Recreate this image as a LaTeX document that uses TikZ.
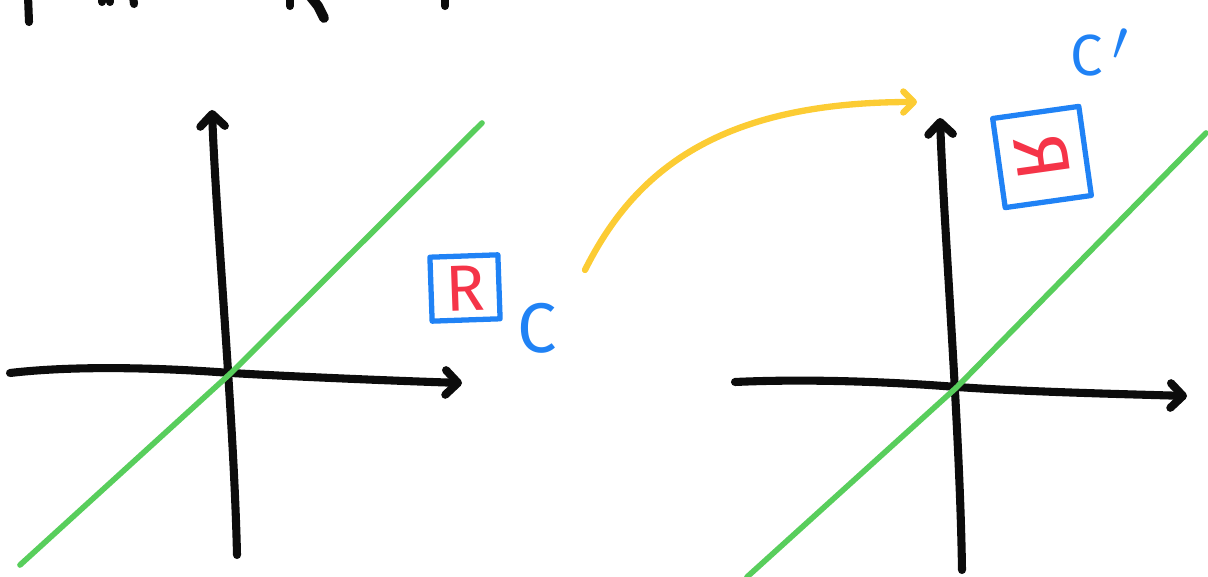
\documentclass[tikz,border=0pt]{standalone}
\usepackage{fontspec}
\setmainfont{Fira Sans}
\usetikzlibrary{arrows.meta}

\definecolor{penblack}{RGB}{12,12,12}
\definecolor{linegreen}{RGB}{88,206,92}
\definecolor{boxblue}{RGB}{32,130,245}
\definecolor{letterred}{RGB}{245,52,72}
\definecolor{arrowyellow}{RGB}{252,204,52}

\begin{document}
\begin{tikzpicture}[x=0.02cm, y=-0.02cm, line cap=round, line join=round,
    axis/.style={penblack, line width=4.6pt, -{Straight Barb[length=7pt, width=14pt, round]}},
    mirror/.style={linegreen, line width=3.2pt},
    sqbox/.style={draw=boxblue, line width=3pt, inner sep=0pt, text=letterred},
    ctag/.style={boxblue, inner sep=0pt},
    maparrow/.style={arrowyellow, line width=3.6pt, -{Straight Barb[length=6pt, width=12pt, round]}}]
    \useasboundingbox (0,0) rectangle (1208,577);

    % cut-off handwriting along the top edge
    \draw[penblack, line width=4.6pt] (28,-4) -- (29,22);
    \draw[penblack, line width=4.6pt] (102,-4) -- (102,2);
    \draw[penblack, line width=4.6pt] (110,-4) -- (110,2);
    \draw[penblack, line width=4.6pt] (133,-4) -- (134,4);
    \draw[penblack, line width=4.6pt] (290,-4) -- (290,6);
    \draw[penblack, line width=5.6pt] (310,-4) -- (318,6) -- (324,18);
    \draw[penblack, line width=4.6pt] (445,-4) -- (445,6);

    % original panel
    \begin{scope}
        \coordinate (lo) at (231,373);
        \coordinate (lxs) at (10,373);
        \coordinate (lxe) at (462,383);
        \coordinate (lyb) at (237,555);
        \coordinate (lyt) at (212,110);
        \draw[axis] (lxs) .. controls (70,366) and (150,367) .. (lo)
            .. controls (300,377) and (400,381) .. (lxe);
        \draw[axis] (lyb) .. controls (234,420) and (216,220) .. (lyt);

        % line of reflection
        \coordinate (lgb) at (20,565);
        \coordinate (lgt) at (482,123);
        \draw[mirror] (lgb) -- (lo) -- (lgt);

        \node[sqbox, minimum width=1.36cm, minimum height=1.28cm, rotate=2,
              font=\fontsize{37}{38}\selectfont] (lbox) at (465,288) {R};
        \node[ctag, font=\fontsize{40}{40}\selectfont] (lC) at (537,328) {C};
    \end{scope}

    % the map
    \coordinate (ystart) at (585,270);
    \coordinate (yend) at (917,102);
    \draw[maparrow] (ystart) .. controls (635,170) and (720,102) .. (yend);

    % reflected panel
    \begin{scope}
        \coordinate (ro) at (957,387);
        \coordinate (rxs) at (735,382);
        \coordinate (rxe) at (1187,396);
        \coordinate (ryb) at (962,570);
        \coordinate (ryt) at (940,118);
        \draw[axis] (rxs) .. controls (800,379) and (880,381) .. (ro)
            .. controls (1030,392) and (1120,394) .. (rxe);
        \draw[axis] (ryb) .. controls (960,430) and (944,230) .. (ryt);

        % line of reflection
        \coordinate (rgb) at (747,577);
        \coordinate (rgt) at (1206,133);
        \draw[mirror] (rgb) -- (ro) -- (rgt);

        \node[sqbox, minimum width=1.74cm, minimum height=1.8cm, rotate=8,
              font=\fontsize{43}{44}\selectfont] (rbox) at (1042,157)
              {\reflectbox{\rotatebox{90}{R}}};
        \node[ctag, font=\fontsize{33}{34}\selectfont] (rC) at (1100,55)
              {C\hspace{5pt}\raisebox{-3pt}{\scalebox{1.3}{$'$}}};
    \end{scope}
\end{tikzpicture}
\end{document}
